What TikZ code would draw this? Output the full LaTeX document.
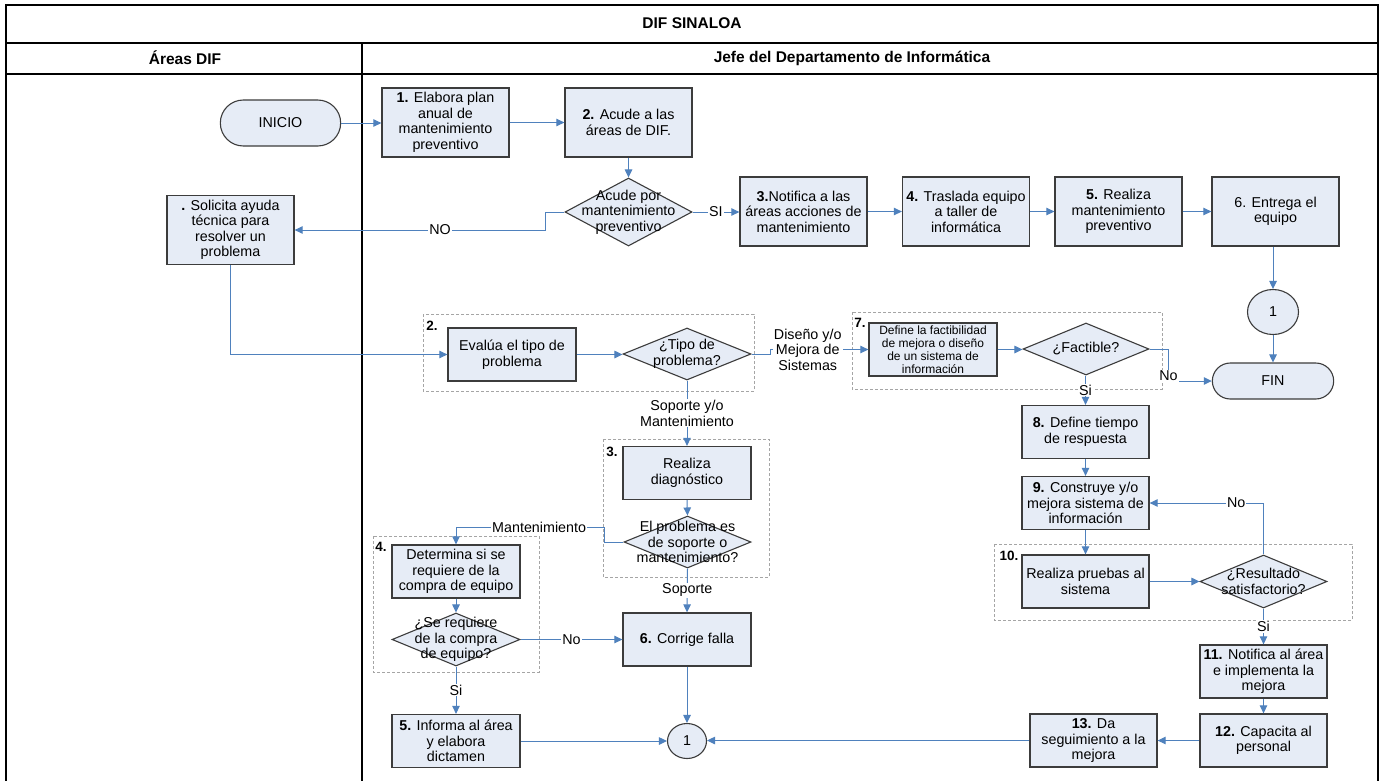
\documentclass[tikz,border=0pt]{standalone}
\usepackage{fontspec}
\setmainfont{Liberation Sans}
\usetikzlibrary{shapes.geometric,shapes.misc,arrows.meta}
\definecolor{boxfill}{RGB}{230,236,246}
\definecolor{boxline}{RGB}{60,60,60}
\definecolor{conn}{RGB}{79,129,189}
\definecolor{grpline}{RGB}{165,165,165}
\newcommand\fsN{\fontsize{14.3}{15.5}\selectfont}
\newcommand\fsS{\fontsize{12}{13}\selectfont}
\newcommand\fsH{\fontsize{15.5}{17}\selectfont\bfseries}
\begin{document}
\begin{tikzpicture}[x=1pt,y=-1pt,
  box/.style={draw=boxline, fill=boxfill, line width=1.3pt, minimum width=127pt, minimum height=53pt, align=center, inner sep=2pt, font=\fsN},
  tallbox/.style={box, minimum height=69pt},
  term/.style={rounded rectangle, draw=boxline, fill=boxfill, line width=1.1pt, minimum width=127pt, minimum height=46pt, font=\fsN},
  conncirc/.style={ellipse, draw=boxline, fill=boxfill, line width=1.1pt, inner sep=0pt, font=\fsN},
  dia/.style={diamond, draw=boxline, fill=boxfill, line width=1.1pt, inner sep=0pt, minimum width=127pt, minimum height=53pt},
  dtext/.style={align=center, font=\fsN, inner sep=0pt},
  arr/.style={draw=conn, line width=1pt, -{Triangle[length=8pt,width=7.5pt]}},
  lbl/.style={fill=white, inner sep=1pt, font=\fsN, align=center},
  grp/.style={draw=grpline, line width=0.8pt, dash pattern=on 3pt off 2pt},
  grplbl/.style={font=\fontsize{13.5}{14}\selectfont\bfseries, inner sep=0pt},
  lane/.style={draw=black, line width=2.5pt},
]
\useasboundingbox (0,0) rectangle (1384,780);
\fill[white] (0,0) rectangle (1384,780);

% frame and lanes
\draw[lane] (6,782) -- (6,5) -- (1378,5) -- (1378,782);
\draw[lane] (6,43) -- (1378,43);
\draw[lane] (6,74) -- (1378,74);
\draw[lane] (362,43) -- (362,782);
\node[font=\fsH] (title) at (692,23) {DIF SINALOA};
\node[font=\fsH] (laneA) at (185,58) {Áreas DIF};
\node[font=\fsH] (laneB) at (852,58) {Jefe del Departamento de Informática};

% dashed groups
\draw[grp] (423,314) rectangle (754,391);
\node[grplbl] (g2) at (432,326) {2.};
\draw[grp] (852,312) rectangle (1162,389);
\node[grplbl] (g7) at (860,323) {7.};
\draw[grp] (603,439) rectangle (769,577);
\node[grplbl] (g3) at (612,452) {3.};
\draw[grp] (373,536) rectangle (539,672);
\node[grplbl] (g4) at (381,547) {4.};
\draw[grp] (994,544) rectangle (1352,620);
\node[grplbl] (g10) at (1009,556) {10.};

% top flow
\node[term] (inicio) at (280.5,123) {INICIO};
\node[tallbox] (b1) at (445.5,122.5) {\textbf{1.} Elabora plan\\anual de\\mantenimiento\\preventivo};
\node[tallbox] (b2) at (628.5,122.5) {\textbf{2.} Acude a las\\áreas de DIF.};
\node[dia, minimum height=68pt] (dA) at (628.5,212) {};
\node[dtext] (dAt) at (dA) {Acude por\\mantenimiento\\preventivo};
\node[tallbox] (sol) at (230.5,230) {\textbf{.} Solicita ayuda\\técnica para\\resolver un\\problema};
\node[tallbox] (b3) at (803.5,211.5) {\textbf{3.}Notifica a las\\áreas acciones de\\mantenimiento};
\node[tallbox] (b4) at (966,211.5) {\textbf{4.} Traslada equipo\\a taller de\\informática};
\node[tallbox] (b5) at (1118.5,211.5) {\textbf{5.} Realiza\\mantenimiento\\preventivo};
\node[tallbox] (b6) at (1275.5,211.5) {6. Entrega el\\equipo};
\node[conncirc, minimum width=51pt, minimum height=45pt] (c1) at (1273,312) {1};
\node[term, minimum width=128pt, minimum height=36pt] (fin) at (1273,381) {FIN};

% middle
\node[box, minimum width=128pt] (eval) at (512,354.5) {Evalúa el tipo de\\problema};
\node[dia, minimum width=128pt, minimum height=52pt] (dT) at (687,354) {};
\node[dtext] (dTt) at (dT) {¿Tipo de\\problema?};
\node[box, minimum width=128pt, font=\fsS] (def) at (933,349.5) {Define la factibilidad\\de mejora o diseño\\de un sistema de\\información};
\node[dia, minimum width=126pt, minimum height=52pt] (dF) at (1086,349) {};
\node[dtext] (dFt) at (dF) {¿Factible?};

% right column
\node[box] (b8) at (1085.5,432) {\textbf{8.} Define tiempo\\de respuesta};
\node[box] (b9) at (1085.5,503) {\textbf{9.} Construye y/o\\mejora sistema de\\información};
\node[box] (prb) at (1085.5,581.5) {Realiza pruebas al\\sistema};
\node[dia] (dR) at (1263.5,581.5) {};
\node[dtext] (dRt) at (dR) {¿Resultado\\satisfactorio?};
\node[box] (b11) at (1263.5,671.5) {\textbf{11.} Notifica al área\\e implementa la\\mejora};
\node[box] (b12) at (1263.5,740.5) {\textbf{12.} Capacita al\\personal};
\node[box] (b13) at (1093.5,740.5) {\textbf{13.} Da\\seguimiento a la\\mejora};

% lower middle
\node[box, minimum width=128pt] (diag) at (687,473) {Realiza\\diagnóstico};
\node[dia, minimum height=52pt] (dP) at (687.5,542) {};
\node[dtext] (dPt) at (dP) {El problema es\\de soporte o\\mantenimiento?};
\node[box, minimum width=128pt] (cor) at (687,639.5) {\textbf{6.} Corrige falla};
\node[conncirc, minimum width=39pt, minimum height=35pt] (c2) at (687,741) {1};
\node[box, minimum width=128pt] (det) at (456,571.5) {Determina si se\\requiere de la\\compra de equipo};
\node[dia, minimum width=128pt] (dS) at (456,639.5) {};
\node[dtext] (dSt) at (dS) {¿Se requiere\\de la compra\\de equipo?};
\node[box, minimum width=128pt] (b5b) at (456,741) {\textbf{5.} Informa al área\\y elabora\\dictamen};
\coordinate (mj) at (456,527);

% connectors
\draw[arr] (inicio.east) -- (inicio.east -| b1.west);
\draw[arr] (b1.east) -- (b1.east -| b2.west);
\draw[arr] (b2.south) -- (dA.north);
\draw[arr] (dA.west) -- ++(-19,0) |- node[lbl, pos=0.71] {NO} (sol.east);
\draw[arr] (dA.east) -- node[lbl] {SI} (dA.east -| b3.west);
\draw[arr] (b3.east) -- (b3.east -| b4.west);
\draw[arr] (b4.east) -- (b4.east -| b5.west);
\draw[arr] (b5.east) -- (b5.east -| b6.west);
\draw[arr] (b6.south -| c1.north) -- (c1.north);
\draw[arr] (c1.south) -- (fin.north);
\draw[arr] (sol.south) |- (eval.west);
\draw[arr] (eval.east) -- (eval.east -| dT.west);
\draw[arr] (dT.east) -- ++(19,0) |- node[lbl, pos=0.69] {Diseño y/o\\Mejora de\\Sistemas} (def.west);
\draw[arr] (dT.south) -- node[lbl] {Soporte y/o\\Mantenimiento} (diag.north);
\draw[arr] (diag.south) -- (dP.north);
\draw[arr] (dP.west) -- ++(-19,0) |- node[lbl, pos=0.72] {Mantenimiento} (mj) -- (det.north);
\draw[arr] (dP.south) -- node[lbl] {Soporte} (cor.north);
\draw[arr] (cor.south) -- (c2.north);
\draw[arr] (det.south) -- (dS.north);
\draw[arr] (dS.east) -- node[lbl] {No} (dS.east -| cor.west);
\draw[arr] (dS.south) -- node[lbl] {Si} (b5b.north);
\draw[arr] (b5b.east) -- (b5b.east -| c2.west);
\draw[arr] (b13.west) -- (b13.west -| c2.east);
\draw[arr] (b12.west) -- (b12.west -| b13.east);
\draw[arr] (b11.south) -- (b12.north);
\draw[arr] (dR.south) -- node[lbl] {Si} (b11.north);
\draw[arr] (prb.east) -- (prb.east -| dR.west);
\draw[arr] (b9.south) -- (prb.north);
\draw[arr] (b8.south) -- (b9.north);
\draw[arr] (dF.south -| b8.north) -- node[lbl] {Si} (b8.north);
\draw[arr] (dR.north) |- node[lbl, pos=0.62] {No} (b9.east);
\draw[arr] (def.east) -- (def.east -| dF.west);
\draw[arr] (dF.east) -- ++(19,0) |- node[lbl, pos=0.42] {No} (fin.west);
\end{tikzpicture}
\end{document}
